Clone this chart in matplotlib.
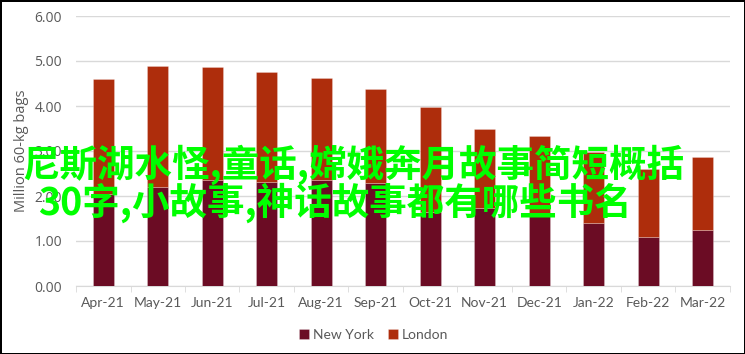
import matplotlib.pyplot as plt
import numpy as np

months = ['Apr-21', 'May-21', 'Jun-21', 'Jul-21', 'Aug-21', 'Sep-21',
          'Oct-21', 'Nov-21', 'Dec-21', 'Jan-22', 'Feb-22', 'Mar-22']
new_york = [2.05, 2.21, 2.36, 2.32, 2.36, 2.28, 1.65, 1.73, 1.56, 1.41, 1.08, 1.24]
london = [2.55, 2.68, 2.51, 2.44, 2.26, 2.09, 2.33, 1.77, 1.77, 1.57, 1.53, 1.63]
yticks = [0, 1, 2, 3, 4, 5, 6]
overlay_1 = '尼斯湖水怪,童话,嫦娥奔月故事简短概括'
overlay_2 = '30字,小故事,神话故事都有哪些书名'

ny_color = '#6B0C24'
ld_color = '#AE2D0C'
txt_color = '#595959'
narrow = ['Lato', 'DejaVu Sans']
wide = ['Open Sans', 'DejaVu Sans']

fig = plt.figure(figsize=(7.45, 3.54), dpi=100)
fig.patch.set_edgecolor('black')
fig.patch.set_linewidth(2)
ax = fig.add_axes([76 / 745, 1 - 286 / 354, 654 / 745, 270 / 354])

x = np.arange(len(months))
ax.bar(x, new_york, 0.39, color=ny_color, edgecolor='#ffffff55', linewidth=0.5, label='New York', zorder=3)
ax.bar(x, london, 0.39, bottom=new_york, color=ld_color, edgecolor='#ffffff55', linewidth=0.5, label='London', zorder=3)

ax.set_xlim(-0.5, len(months) - 0.5)
ax.set_ylim(0, 6)
ax.set_yticks(yticks)
ax.set_yticklabels([f'{v:.2f}' for v in yticks], fontsize=10, color=txt_color, family=wide)
ax.set_xticks(x)
ax.set_xticklabels(months, fontsize=10, color=txt_color, family=narrow)
ax.set_xticks(np.arange(-0.5, len(months)), minor=True)
ax.tick_params(axis='x', which='major', length=0, pad=8)
ax.tick_params(axis='x', which='minor', length=4, color='#D9D9D9')
ax.tick_params(axis='y', length=0, pad=10)
ax.grid(axis='y', color='#D9D9D9', linewidth=1, zorder=0)
for s in ['top', 'right', 'left']:
    ax.spines[s].set_visible(False)
ax.spines['bottom'].set_color('#D9D9D9')
ax.set_ylabel('Million 60-kg bags', fontsize=10.5, color=txt_color, family=wide, labelpad=4)

fig.legend(loc='center', bbox_to_anchor=(374 / 745, 0.054), ncol=2, frameon=False,
           handlelength=0.7, handleheight=0.7, handletextpad=0.3, columnspacing=1.0,
           prop={'family': narrow, 'size': 10}, labelcolor=txt_color)

fig.text(353 / 745, 1 - 165 / 354, overlay_1, color='#00FF00', fontsize=27, fontweight='bold',
         family=['Noto Sans CJK SC', 'DejaVu Sans'], ha='center', va='center')
fig.text(335 / 745, 1 - 203 / 354, overlay_2, color='#00FF00', fontsize=27, fontweight='bold',
         family=['Noto Sans CJK SC', 'DejaVu Sans'], ha='center', va='center')

fig.savefig('out.png', dpi=100, edgecolor=fig.get_edgecolor())
